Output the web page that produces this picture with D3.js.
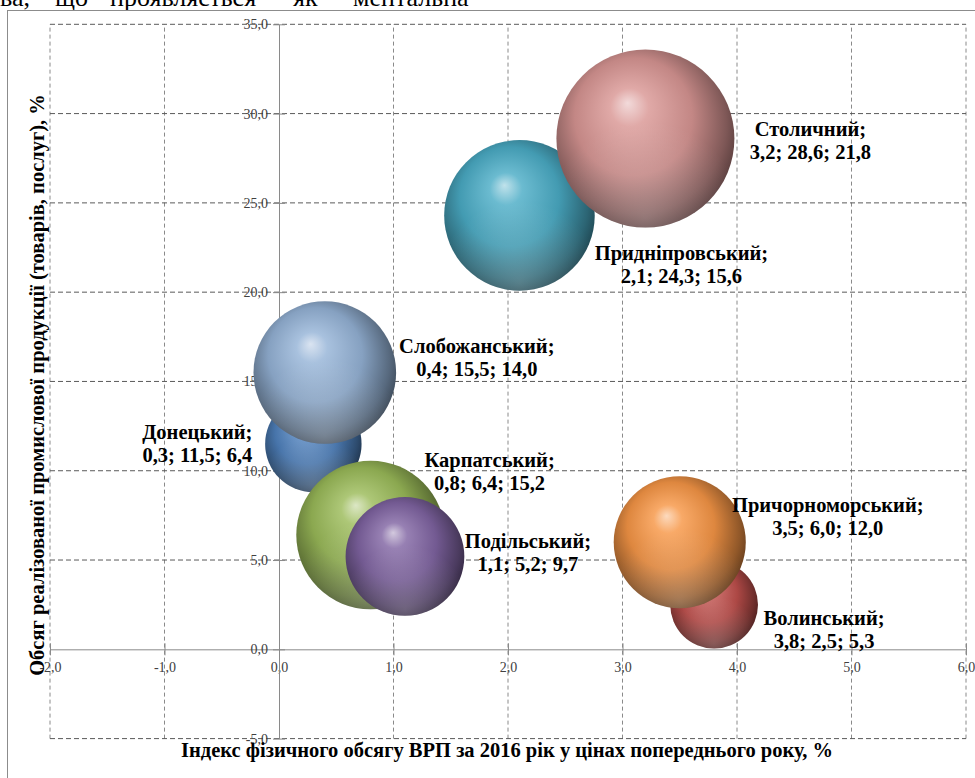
<!DOCTYPE html>
<html>
<head>
<meta charset="utf-8">
<script src="https://cdn.jsdelivr.net/npm/d3@7"></script>
<style>
  html, body { margin: 0; padding: 0; background: #fff; overflow: hidden; }
  svg { display: block; font-family: "Liberation Serif", "Times New Roman", serif; }
</style>
</head>
<body>
<div id="chart"></div>
<script>
// data
var regions = ["Донецький", "Волинський", "Карпатський", "Подільський",
  "Придніпровський", "Причорноморський", "Слобожанський", "Столичний"];
var gdpIndex = [0.3, 3.8, 0.8, 1.1, 2.1, 3.5, 0.4, 3.2];      // x
var industryShare = [11.5, 2.5, 6.4, 5.2, 24.3, 6.0, 15.5, 28.6]; // y
var bubbleSize = [6.4, 5.3, 15.2, 9.7, 15.6, 12.0, 14.0, 21.8];
var xTicks = [-2, -1, 0, 1, 2, 3, 4, 5, 6];
var yTicks = [-5, 0, 5, 10, 15, 20, 25, 30, 35];

// layout
var colors = ["#4F81BD", "#C0504D", "#9BBB59", "#8064A2", "#4BACC6", "#F79646", "#95B3D7", "#D99694"];
// label placement (px from bubble centre: text centre, first baseline)
var labelOffset = [[-116, -5], [110, 20], [119, -68], [123, -8], [162, 45], [148, -30], [152, -20], [165, -3]];

var width = 975, height = 778;

var svg = d3.select("#chart").append("svg")
  .attr("width", width).attr("height", height);

var loc = d3.formatLocale({decimal: ",", thousands: " ", grouping: [3], currency: ["", ""], minus: "-"});
var fmt = loc.format(".1f");

var x = d3.scaleLinear().domain([-2, 6]).range([50, 966]);
var y = d3.scaleLinear().domain([-5, 35]).range([738.6, 24.3]);
var r = d3.scaleSqrt().domain([0, 21.8]).range([0, 89]);

// text of the page above the chart (cut)
var topWords = [["ва,", 0], ["що", 55], ["проявляється", 110], ["як", 293], ["ментальна", 353]];
svg.append("g").selectAll("text")
  .data(topWords).enter().append("text")
  .attr("x", function(d){ return d[1]; })
  .attr("y", 6)
  .attr("font-size", 26)
  .attr("fill", "#000")
  .text(function(d){ return d[0]; });

// chart frame
svg.append("rect")
  .attr("x", 7.5).attr("y", 10.5)
  .attr("width", 1000).attr("height", 800)
  .attr("fill", "none").attr("stroke", "#8c8c8c");

// gradients
var defs = svg.append("defs");
colors.forEach(function(c, i){
  var g = defs.append("radialGradient")
    .attr("id", "ball" + i)
    .attr("cx", "0.46").attr("cy", "0.44").attr("r", "0.6")
    .attr("fx", "0.4").attr("fy", "0.3");
  var base = d3.color(c);
  g.append("stop").attr("offset", "0%").attr("stop-color", d3.interpolateRgb(c, "#fff")(0.65));
  g.append("stop").attr("offset", "18%").attr("stop-color", d3.interpolateRgb(c, "#fff")(0.18));
  g.append("stop").attr("offset", "55%").attr("stop-color", base.darker(0.3));
  g.append("stop").attr("offset", "84%").attr("stop-color", base.darker(1.5));
  g.append("stop").attr("offset", "100%").attr("stop-color", base.darker(2.8));
});
// bottom reflection
var refl = defs.append("radialGradient").attr("id", "refl")
  .attr("cx", "0.5").attr("cy", "0.95").attr("r", "0.55");
refl.append("stop").attr("offset", "0%").attr("stop-color", "#fff").attr("stop-opacity", 0.22);
refl.append("stop").attr("offset", "100%").attr("stop-color", "#fff").attr("stop-opacity", 0);

// grid
svg.append("g").selectAll("line")
  .data(xTicks.filter(function(d){ return d !== 0; })).enter().append("line")
  .attr("x1", function(d){ return x(d); }).attr("x2", function(d){ return x(d); })
  .attr("y1", y(-5)).attr("y2", y(35))
  .attr("stroke", "#8a8a8a").attr("stroke-dasharray", "4,3");
svg.append("g").selectAll("line")
  .data(yTicks.filter(function(d){ return d !== 0; })).enter().append("line")
  .attr("x1", x(-2)).attr("x2", x(6))
  .attr("y1", function(d){ return y(d); }).attr("y2", function(d){ return y(d); })
  .attr("stroke", "#5a5a5a").attr("stroke-dasharray", "5,3");

// axes
var xAxis = svg.append("g")
  .attr("transform", "translate(0," + y(0) + ")")
  .call(d3.axisBottom(x).tickValues(xTicks).tickFormat(fmt).tickSize(6).tickSizeOuter(0).tickPadding(7));
var yAxis = svg.append("g")
  .attr("transform", "translate(" + x(0) + ",0)")
  .call(d3.axisLeft(y).tickValues(yTicks).tickFormat(fmt).tickSize(6).tickSizeOuter(0).tickPadding(5));
[xAxis, yAxis].forEach(function(a){
  a.attr("font-family", "Liberation Serif").attr("font-size", 14);
  a.select(".domain").attr("stroke", "#8a8a8a");
  a.selectAll(".tick line").attr("stroke", "#8a8a8a");
  a.selectAll(".tick text").attr("fill", "#404040");
});
xAxis.selectAll(".tick line").attr("y1", -6).attr("y2", 6);
yAxis.selectAll(".tick line").attr("x1", -6).attr("x2", 6);

// bubbles
var idx = d3.range(regions.length);
var bub = svg.append("g").selectAll("g")
  .data(idx).enter().append("g");
bub.append("circle")
  .attr("cx", function(i){ return x(gdpIndex[i]); })
  .attr("cy", function(i){ return y(industryShare[i]); })
  .attr("r", function(i){ return r(bubbleSize[i]); })
  .attr("fill", function(i){ return "url(#ball" + i + ")"; });
bub.append("circle")
  .attr("cx", function(i){ return x(gdpIndex[i]); })
  .attr("cy", function(i){ return y(industryShare[i]); })
  .attr("r", function(i){ return r(bubbleSize[i]); })
  .attr("fill", "url(#refl)");

// data labels
var lab = svg.append("g")
  .attr("font-weight", "bold").attr("font-size", 20.5)
  .attr("text-anchor", "middle").attr("fill", "#000");
idx.forEach(function(i){
  var cx = x(gdpIndex[i]) + labelOffset[i][0];
  var cy = y(industryShare[i]) + labelOffset[i][1];
  var t = lab.append("text").attr("x", cx).attr("y", cy);
  t.append("tspan").attr("x", cx).text(regions[i] + ";");
  t.append("tspan").attr("x", cx).attr("dy", 23)
    .text(fmt(gdpIndex[i]) + "; " + fmt(industryShare[i]) + "; " + fmt(bubbleSize[i]));
});

// axis titles
svg.append("text")
  .attr("x", 507).attr("y", 757)
  .attr("text-anchor", "middle")
  .attr("font-weight", "bold").attr("font-size", 20.5)
  .text("Індекс фізичного обсягу ВРП за 2016 рік у цінах попереднього року, %");
svg.append("text")
  .attr("transform", "translate(44,385) rotate(-90)")
  .attr("text-anchor", "middle")
  .attr("font-weight", "bold").attr("font-size", 20.5)
  .text("Обсяг реалізованої промислової продукції (товарів, послуг), %");
</script>
</body>
</html>
